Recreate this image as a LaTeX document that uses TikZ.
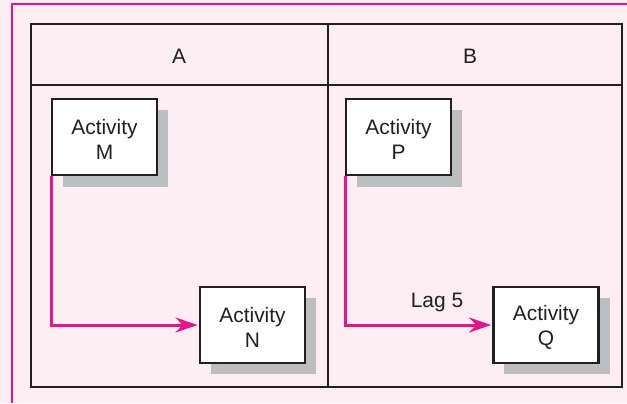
\documentclass[tikz,border=0pt]{standalone}
\usepackage{fontspec}
\setmainfont{Liberation Sans}
\usetikzlibrary{arrows.meta}
\definecolor{bgpink}{HTML}{FDEEF4}
\definecolor{mag}{HTML}{E6168A}
\definecolor{ink}{HTML}{231F20}
\definecolor{shade}{HTML}{BCBEC0}
\begin{document}
\begin{tikzpicture}[x=1bp,y=-1bp,
  actbox/.style={draw=ink,line width=2.8bp,fill=white,minimum width=105bp,minimum height=76bp,
    align=center,font=\fontsize{21}{25}\selectfont,text=ink,inner sep=0pt},
  shadowbox/.style={fill=shade},
  rule/.style={draw=ink,line width=2.8bp},
  link/.style={draw=mag,line width=3bp,-{Stealth[length=22bp,width=15bp,inset=7bp]}},
  lbl/.style={font=\fontsize{21}{25}\selectfont,text=ink}]
\useasboundingbox (0,0) rectangle (627,403);
\fill[bgpink] (0,0) rectangle (627,403);
\draw[mag,line width=2.8bp] (12,403) -- (12,4) -- (627,4);
% table
\draw[rule] (31,24) rectangle (622,387);
\draw[rule] (31,85) -- (622,85);
\draw[rule] (328,24) -- (328,387);
\node[lbl] (hA) at (179,56) {A};
\node[lbl] (hB) at (470,56) {B};
% shadows
\fill[shadowbox] (63,110) rectangle (168,187);
\fill[shadowbox] (211,298) rectangle (316,374);
\fill[shadowbox] (357,110) rectangle (462,187);
\fill[shadowbox] (504,298) rectangle (610,374);
% boxes
\node[actbox] (M) at (104.5,137) {};
\node[actbox] (N) at (252.5,325) {};
\node[actbox] (P) at (398.5,137) {};
\node[actbox] (Q) at (546,325) {};
\node[lbl,align=center] (tM) at ([yshift=-2bp]M.center) {Activity\\M};
\node[lbl,align=center] (tN) at ([yshift=-2bp]N.center) {Activity\\N};
\node[lbl,align=center] (tP) at ([yshift=-2bp]P.center) {Activity\\P};
\node[lbl,align=center] (tQ) at ([yshift=-2bp]Q.center) {Activity\\Q};
% links
\coordinate (m0) at ([xshift=1bp]M.south west);
\coordinate (p0) at ([xshift=1bp]P.south west);
\draw[link] (m0) |- ([xshift=-1bp]N.west);
\draw[link] (p0) |- ([xshift=-1bp]Q.west);
\node[lbl] (lag) at (437,302) {Lag 5};
\end{tikzpicture}
\end{document}
